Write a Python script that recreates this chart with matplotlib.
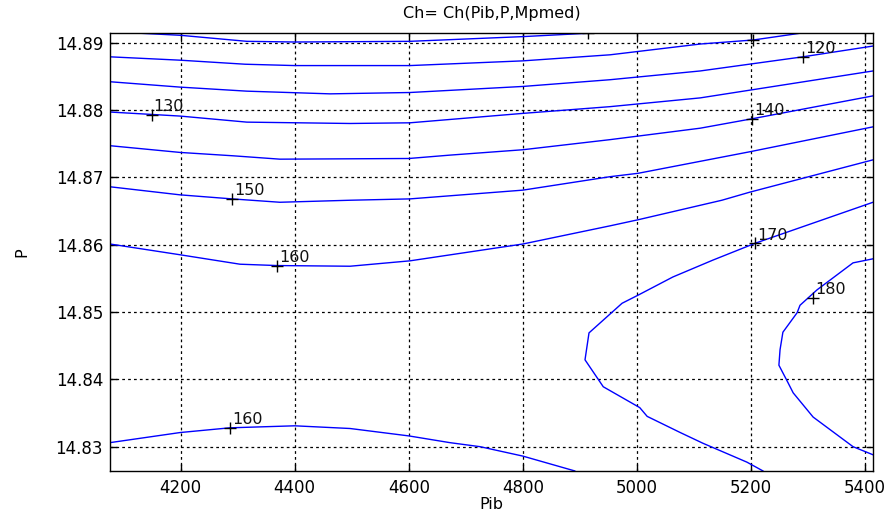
import matplotlib
matplotlib.use("Agg")
import matplotlib.pyplot as plt

plt.rcParams['font.family'] = ['DejaVu Sans']

# contour lines of Ch over (Pib, P), one polyline per level piece
c100_x = [4129, 4199, 4316, 4400, 4602, 4800, 4914]
c100_y = [14.8914, 14.8911, 14.8902, 14.8901, 14.8902, 14.8909, 14.8914]

c110_x = [4076, 4199, 4313, 4400, 4602, 4800, 4953, 5111, 5204, 5286]
c110_y = [14.8879, 14.8874, 14.8868, 14.8866, 14.8866, 14.8873, 14.8882, 14.8898, 14.8904, 14.8914]

c120_x = [4076, 4199, 4316, 4462, 4602, 4800, 4953, 5111, 5291, 5414]
c120_y = [14.8842, 14.8834, 14.8828, 14.8824, 14.8826, 14.8835, 14.8845, 14.8858, 14.8879, 14.8895]

c130_x = [4076, 4199, 4316, 4497, 4602, 4800, 4953, 5111, 5414]
c130_y = [14.8797, 14.8791, 14.8782, 14.8780, 14.8781, 14.8795, 14.8805, 14.8818, 14.8858]

c140_x = [4076, 4199, 4292, 4374, 4600, 4672, 4800, 4953, 5111, 5202, 5414]
c140_y = [14.8747, 14.8737, 14.8732, 14.8727, 14.8728, 14.8733, 14.8741, 14.8756, 14.8773, 14.8787, 14.8821]

c150_x = [4076, 4199, 4290, 4374, 4497, 4602, 4800, 4953, 5002, 5198, 5414]
c150_y = [14.8686, 14.8674, 14.8668, 14.8663, 14.8666, 14.8668, 14.8681, 14.8701, 14.8706, 14.8738, 14.8775]

c160a_x = [4076, 4199, 4304, 4369, 4497, 4602, 4800, 4953, 5002, 5149, 5198, 5414]
c160a_y = [14.8601, 14.8585, 14.8571, 14.8569, 14.8568, 14.8576, 14.8601, 14.8628, 14.8637, 14.8666, 14.8678, 14.8726]

c160b_x = [4076, 4199, 4286, 4400, 4497, 4600, 4672, 4725, 4800, 4891]
c160b_y = [14.8306, 14.8321, 14.8328, 14.8331, 14.8327, 14.8316, 14.8306, 14.8300, 14.8286, 14.8264]

c170_x = [5414, 5207, 5133, 5063, 5002, 4974, 4916, 4909, 4941, 5005, 5018, 5076, 5116, 5193, 5221]
c170_y = [14.8663, 14.8602, 14.8577, 14.8552, 14.8525, 14.8513, 14.8469, 14.8429, 14.8389, 14.8358, 14.8345, 14.8321, 14.8305, 14.8277, 14.8264]

c180_x = [5414, 5379, 5316, 5286, 5281, 5256, 5251, 5249, 5265, 5274, 5309, 5379, 5414]
c180_y = [14.8579, 14.8573, 14.8533, 14.8510, 14.8499, 14.8470, 14.8444, 14.8421, 14.8395, 14.8380, 14.8344, 14.8300, 14.8288]

# clabel positions (level, Pib, P); empty text where the label falls outside
label_lev = ['', '', '120', '130', '140', '150', '160', '160', '170', '180']
label_x = [4914, 5204, 5291, 4149, 5202, 4290, 4369, 4286, 5207, 5309]
label_y = [14.8914, 14.8904, 14.8879, 14.8793, 14.8787, 14.8668, 14.8569, 14.8328, 14.8602, 14.8521]

xticks = [4200, 4400, 4600, 4800, 5000, 5200, 5400]
yticks = [14.83, 14.84, 14.85, 14.86, 14.87, 14.88, 14.89]
ytick_labels = ['14.83', '14.84', '14.85', '14.86', '14.87', '14.88', '14.89']

fig = plt.figure(figsize=(8.89, 5.17), dpi=100)
ax = fig.add_axes([0.1237, 0.0890, 0.8583, 0.8472])

lines = [(c100_x, c100_y), (c110_x, c110_y), (c120_x, c120_y), (c130_x, c130_y),
         (c140_x, c140_y), (c150_x, c150_y), (c160a_x, c160a_y), (c160b_x, c160b_y),
         (c170_x, c170_y), (c180_x, c180_y)]
for xs, ys in lines:
    ax.plot(xs, ys, color='#0000ff', linewidth=1.0)

for lev, lx, ly in zip(label_lev, label_x, label_y):
    ax.plot(lx, ly, marker='+', color='black', markersize=9, mew=1.0)
    if lev:
        ax.annotate(lev, (lx, ly), xytext=(1.5, 2.5), textcoords='offset points',
                    ha='left', va='baseline', fontsize=11.5, color='#111111')

ax.set_xlim(4076, 5414)
ax.set_ylim(14.82639, 14.89144)
ax.set_xticks(xticks)
ax.set_xticklabels([str(t) for t in xticks])
ax.set_yticks(yticks)
ax.set_yticklabels(ytick_labels)

ax.grid(True, color='black', linestyle=(0, (2.2, 2.5)), linewidth=0.9)
ax.tick_params(direction='in', length=5, width=1, top=True, right=True,
               labelsize=12, colors='black')
ax.tick_params(axis='x', pad=6)
ax.tick_params(axis='y', pad=5)
for s in ax.spines.values():
    s.set_linewidth(1.0)

ax.set_title('Ch= Ch(Pib,P,Mpmed)', fontsize=11.5, pad=11)
ax.set_xlabel('Pib', fontsize=11.5, labelpad=0)
ax.set_ylabel('P', fontsize=11.5, labelpad=19)

fig.savefig('out.png', dpi=100, facecolor='white')
